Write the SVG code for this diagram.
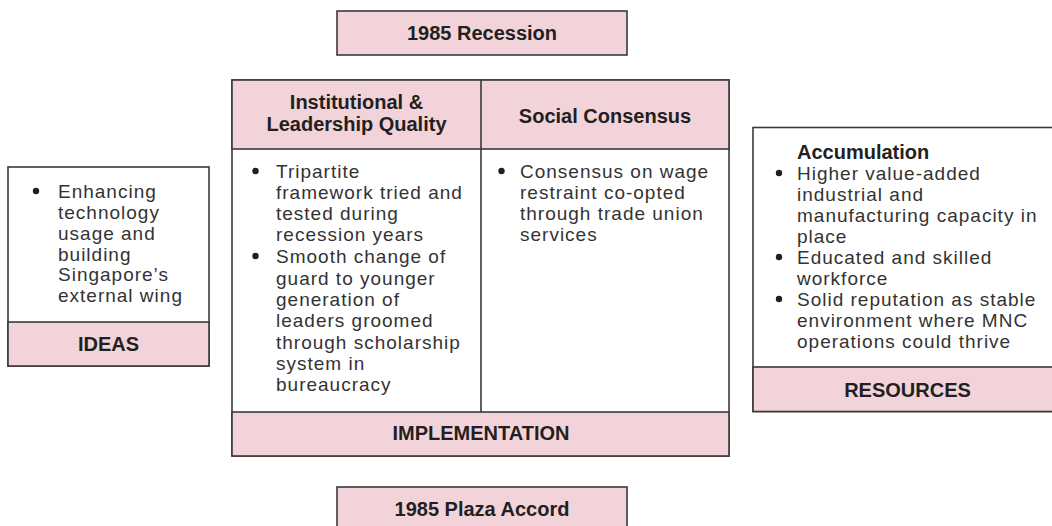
<svg xmlns="http://www.w3.org/2000/svg" width="1052" height="526" viewBox="0 0 1052 526">
<style>
.box{fill:#ffffff;stroke:#3a3a3a;stroke-width:1.6}
.pink{fill:#f2d3da;stroke:#3a3a3a;stroke-width:1.6}
.ln{stroke:#3a3a3a;stroke-width:1.6;fill:none}
.h{font-family:"Liberation Sans",Arial,sans-serif;font-weight:bold;font-size:20px;fill:#231f20;text-anchor:middle}
.t{font-family:"Liberation Sans",Arial,sans-serif;font-size:19px;letter-spacing:1px;fill:#333333}
.hl{font-family:"Liberation Sans",Arial,sans-serif;font-weight:bold;font-size:20px;fill:#231f20}
.b{fill:#231f20}
</style>
<rect width="1052" height="526" fill="#ffffff"/>

<g id="recession">
<rect class="pink" x="337" y="11" width="290" height="44"/>
<text class="h" x="482" y="39.5">1985 Recession</text>
</g>

<g id="implementation">
<rect class="box" x="232" y="80" width="497" height="376"/>
<rect class="pink" x="232" y="80" width="497" height="69"/>
<rect class="pink" x="232" y="412" width="497" height="44"/>
<line class="ln" x1="481" y1="80" x2="481" y2="412"/>
<text class="h" x="356.5" y="109">Institutional &amp;</text>
<text class="h" x="356.5" y="131">Leadership Quality</text>
<text class="h" x="605" y="123">Social Consensus</text>
<circle class="b" cx="255.5" cy="171" r="3.2"/>
<text class="t" x="276" y="178">Tripartite</text>
<text class="t" x="276" y="199">framework tried and</text>
<text class="t" x="276" y="220">tested during</text>
<text class="t" x="276" y="241">recession years</text>
<circle class="b" cx="255.5" cy="256" r="3.2"/>
<text class="t" x="276" y="263">Smooth change of</text>
<text class="t" x="276" y="284.5">guard to younger</text>
<text class="t" x="276" y="306">generation of</text>
<text class="t" x="276" y="327">leaders groomed</text>
<text class="t" x="276" y="348.5">through scholarship</text>
<text class="t" x="276" y="370">system in</text>
<text class="t" x="276" y="391">bureaucracy</text>
<circle class="b" cx="501.5" cy="171" r="3.2"/>
<text class="t" x="520" y="178">Consensus on wage</text>
<text class="t" x="520" y="199">restraint co-opted</text>
<text class="t" x="520" y="220">through trade union</text>
<text class="t" x="520" y="241">services</text>
<text class="h" x="481" y="440">IMPLEMENTATION</text>
</g>

<g id="ideas">
<rect class="box" x="8" y="167" width="201" height="199"/>
<rect class="pink" x="8" y="322" width="201" height="44"/>
<circle class="b" cx="36" cy="191" r="3.2"/>
<text class="t" x="58" y="198">Enhancing</text>
<text class="t" x="58" y="219">technology</text>
<text class="t" x="58" y="240">usage and</text>
<text class="t" x="58" y="260.5">building</text>
<text class="t" x="58" y="281">Singapore’s</text>
<text class="t" x="58" y="302">external wing</text>
<text class="h" x="108.5" y="351">IDEAS</text>
</g>

<g id="resources">
<rect class="box" x="753" y="127.5" width="310" height="284"/>
<rect class="pink" x="753" y="367" width="310" height="44.5"/>
<text class="hl" x="797" y="158.5">Accumulation</text>
<circle class="b" cx="779" cy="173" r="3.2"/>
<text class="t" x="797" y="180">Higher value-added</text>
<text class="t" x="797" y="201">industrial and</text>
<text class="t" x="797" y="222">manufacturing capacity in</text>
<text class="t" x="797" y="243">place</text>
<circle class="b" cx="779" cy="257" r="3.2"/>
<text class="t" x="797" y="264">Educated and skilled</text>
<text class="t" x="797" y="285">workforce</text>
<circle class="b" cx="779" cy="299" r="3.2"/>
<text class="t" x="797" y="306">Solid reputation as stable</text>
<text class="t" x="797" y="327">environment where MNC</text>
<text class="t" x="797" y="348">operations could thrive</text>
<text class="h" x="907.5" y="397">RESOURCES</text>
</g>

<g id="plaza">
<rect class="pink" x="337" y="487" width="290" height="45"/>
<text class="h" x="482" y="516">1985 Plaza Accord</text>
</g>

<g id="connectors"></g>
</svg>
